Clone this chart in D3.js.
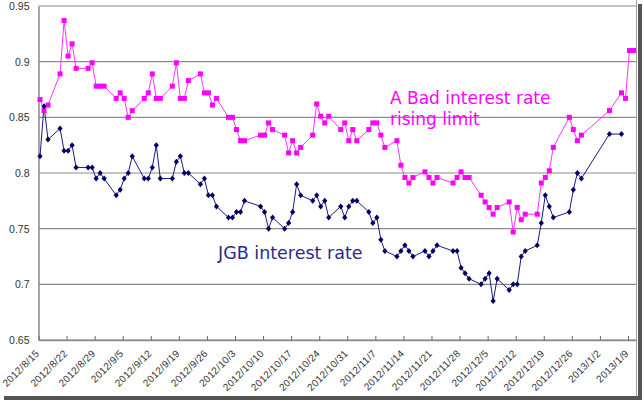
<!DOCTYPE html>
<html><head><meta charset="utf-8">
<script src="https://cdn.jsdelivr.net/npm/d3@7"></script>
<style>body{margin:0;background:#fff}svg{display:block}</style>
</head><body>
<svg id="c" width="644" height="400"></svg>
<script>
const dates = ["2012-08-15","2012-08-16","2012-08-17","2012-08-20","2012-08-21","2012-08-22","2012-08-23","2012-08-24","2012-08-27","2012-08-28","2012-08-29","2012-08-30","2012-08-31",
"2012-09-03","2012-09-04","2012-09-05","2012-09-06","2012-09-07","2012-09-10","2012-09-11","2012-09-12","2012-09-13","2012-09-14","2012-09-17","2012-09-18","2012-09-19","2012-09-20","2012-09-21","2012-09-24","2012-09-25","2012-09-26","2012-09-27","2012-09-28",
"2012-10-01","2012-10-02","2012-10-03","2012-10-04","2012-10-05","2012-10-09","2012-10-10","2012-10-11","2012-10-12","2012-10-15","2012-10-16","2012-10-17","2012-10-18","2012-10-19","2012-10-22","2012-10-23","2012-10-24","2012-10-25","2012-10-26","2012-10-29","2012-10-30","2012-10-31",
"2012-11-01","2012-11-02","2012-11-05","2012-11-06","2012-11-07","2012-11-08","2012-11-09","2012-11-12","2012-11-13","2012-11-14","2012-11-15","2012-11-16","2012-11-19","2012-11-20","2012-11-21","2012-11-22","2012-11-26","2012-11-27","2012-11-28","2012-11-29","2012-11-30",
"2012-12-03","2012-12-04","2012-12-05","2012-12-06","2012-12-07","2012-12-10","2012-12-11","2012-12-12","2012-12-13","2012-12-14","2012-12-17","2012-12-18","2012-12-19","2012-12-20","2012-12-21","2012-12-25","2012-12-26","2012-12-27","2012-12-28",
"2013-01-04","2013-01-07","2013-01-08","2013-01-09","2013-01-10"];

const jgbRate = [0.815,0.860,0.830,0.840,0.820,0.820,0.825,0.805,0.805,0.805,0.795,0.800,0.795,
0.780,0.785,0.795,0.800,0.815,0.795,0.795,0.805,0.825,0.795,0.795,0.810,0.815,0.800,0.800,0.790,0.795,0.780,0.780,0.770,
0.760,0.760,0.765,0.765,0.775,0.770,0.765,0.750,0.760,0.750,0.755,0.765,0.790,0.780,0.775,0.780,0.770,0.775,0.760,0.770,0.760,0.770,
0.775,0.775,0.765,0.755,0.760,0.740,0.730,0.725,0.730,0.735,0.730,0.725,0.730,0.725,0.730,0.735,0.730,0.730,0.715,0.710,0.705,
0.700,0.705,0.710,0.685,0.705,0.695,0.700,0.700,0.725,0.730,0.735,0.755,0.780,0.770,0.760,0.765,0.785,0.800,0.795,
0.835,0.835];

const badLimit = [0.866,0.856,0.861,0.889,0.937,0.905,0.916,0.894,0.894,0.899,0.878,0.878,0.878,
0.867,0.872,0.867,0.850,0.856,0.867,0.872,0.889,0.867,0.867,0.878,0.899,0.867,0.867,0.883,0.889,0.872,0.872,0.861,0.867,
0.850,0.850,0.839,0.829,0.829,0.834,0.834,0.845,0.839,0.834,0.818,0.829,0.818,0.823,0.834,0.862,0.851,0.845,0.851,0.839,0.845,0.829,
0.839,0.829,0.839,0.845,0.845,0.834,0.823,0.829,0.807,0.796,0.791,0.796,0.801,0.796,0.791,0.796,0.791,0.796,0.801,0.796,0.796,
0.780,0.774,0.769,0.763,0.769,0.774,0.747,0.769,0.758,0.763,0.763,0.791,0.796,0.802,0.823,0.850,0.839,0.829,0.834,
0.856,0.872,0.867,0.910,0.910];

const xTickLabels = ["2012/8/15","2012/8/22","2012/8/29","2012/9/5","2012/9/12","2012/9/19","2012/9/26","2012/10/3","2012/10/10","2012/10/17","2012/10/24","2012/10/31","2012/11/7","2012/11/14","2012/11/21","2012/11/28","2012/12/5","2012/12/12","2012/12/19","2012/12/26","2013/1/2","2013/1/9"];
const yTickValues = [0.65,0.7,0.75,0.8,0.85,0.9,0.95];
const yTickLabels = ["0.65","0.7","0.75","0.8","0.85","0.9","0.95"];
const badLabelLines = ["A Bad interest rate","rising limit"];
const jgbLabel = "JGB interest rate";

const parse = d3.timeParse("%Y-%m-%d");
const dateObjs = dates.map(parse);
const jgbData = jgbRate.map((v,i)=>({d:dateObjs[i],v}));
const badData = badLimit.map((v,i)=>({d:dateObjs[i],v}));

const svg = d3.select("#c");
const x = d3.scaleTime().domain([parse("2012-08-15"), parse("2013-01-11")]).range([38.5, 636]);
const y = d3.scaleLinear().domain([0.65, 0.95]).range([340, 6]);
const px = d => x(d3.timeHour.offset(d, 9));

// frame + shadow
svg.append("rect").attr("x",638).attr("y",4).attr("width",4).attr("height",396).attr("fill","#555");
svg.append("rect").attr("x",4).attr("y",396).attr("width",638).attr("height",4).attr("fill","#555");
svg.append("rect").attr("x",0).attr("y",0).attr("width",638).attr("height",396).attr("fill","#fff");
svg.append("line").attr("x1",636.5).attr("x2",636.5).attr("y1",0).attr("y2",396).attr("stroke","#a0a0a0");

// gridlines
svg.append("g").selectAll("line").data(yTickValues).join("line")
  .attr("x1",38.5).attr("x2",636).attr("y1",d=>y(d)).attr("y2",d=>y(d))
  .attr("stroke","#8a8a8a").attr("stroke-width",1.2);

// y axis
const yAxis = svg.append("g").attr("transform","translate(38.5,0)")
  .call(d3.axisLeft(y).tickValues(yTickValues).tickFormat((d,i)=>yTickLabels[i]).tickSize(0).tickPadding(9));
yAxis.select(".domain").attr("stroke","#8a8a8a").attr("stroke-width",1.5);
yAxis.selectAll("text").attr("font-family","Liberation Sans, Arial, sans-serif").attr("font-size",10.5).attr("fill","#333");

// x axis
const tickDates = xTickLabels.map((_,i)=>d3.timeDay.offset(parse("2012-08-15"), 7*i));
const xAxis = svg.append("g").attr("transform","translate(0,340)")
  .call(d3.axisBottom(x).tickValues(tickDates).tickFormat((d,i)=>xTickLabels[i]).tickSize(-4).tickSizeOuter(0));
xAxis.select(".domain").attr("stroke","#8a8a8a").attr("stroke-width",1.5);
xAxis.selectAll(".tick line").attr("stroke","#666");
xAxis.selectAll("text")
  .attr("font-family","Liberation Sans, Arial, sans-serif").attr("font-size",10).attr("fill","#333")
  .attr("letter-spacing",0.3)
  .attr("text-anchor","end").attr("dy",0).attr("y",0)
  .attr("transform","translate(1,14) rotate(-45)");

// lines
const line = d3.line().x(d=>px(d.d)).y(d=>y(d.v));
svg.append("path").datum(badData).attr("d",line).attr("fill","none").attr("stroke","#ff33ff").attr("stroke-width",1);
svg.append("path").datum(jgbData).attr("d",line).attr("fill","none").attr("stroke","#1a1a80").attr("stroke-width",1);

// markers
svg.append("g").selectAll("rect").data(badData).join("rect")
  .attr("x",d=>px(d.d)-2.5).attr("y",d=>y(d.v)-2.5).attr("width",5).attr("height",5).attr("fill","#ff00ff");
svg.append("g").selectAll("path").data(jgbData).join("path")
  .attr("transform",d=>`translate(${px(d.d)},${y(d.v)})`)
  .attr("d","M0,-3L2.6,0L0,3L-2.6,0Z").attr("fill","#000066");

// labels
const bad = svg.append("text").attr("x",390).attr("y",104).attr("fill","#ff00ff")
  .attr("font-family","DejaVu Sans, sans-serif").attr("font-size",17);
bad.selectAll("tspan").data(badLabelLines).join("tspan").attr("x",390).attr("dy",(d,i)=>i?21:0).text(d=>d);
svg.append("text").attr("x",218).attr("y",259).attr("fill","#2a2a8a")
  .attr("font-family","DejaVu Sans, sans-serif").attr("font-size",17.5).text(jgbLabel);
</script>
</body></html>
